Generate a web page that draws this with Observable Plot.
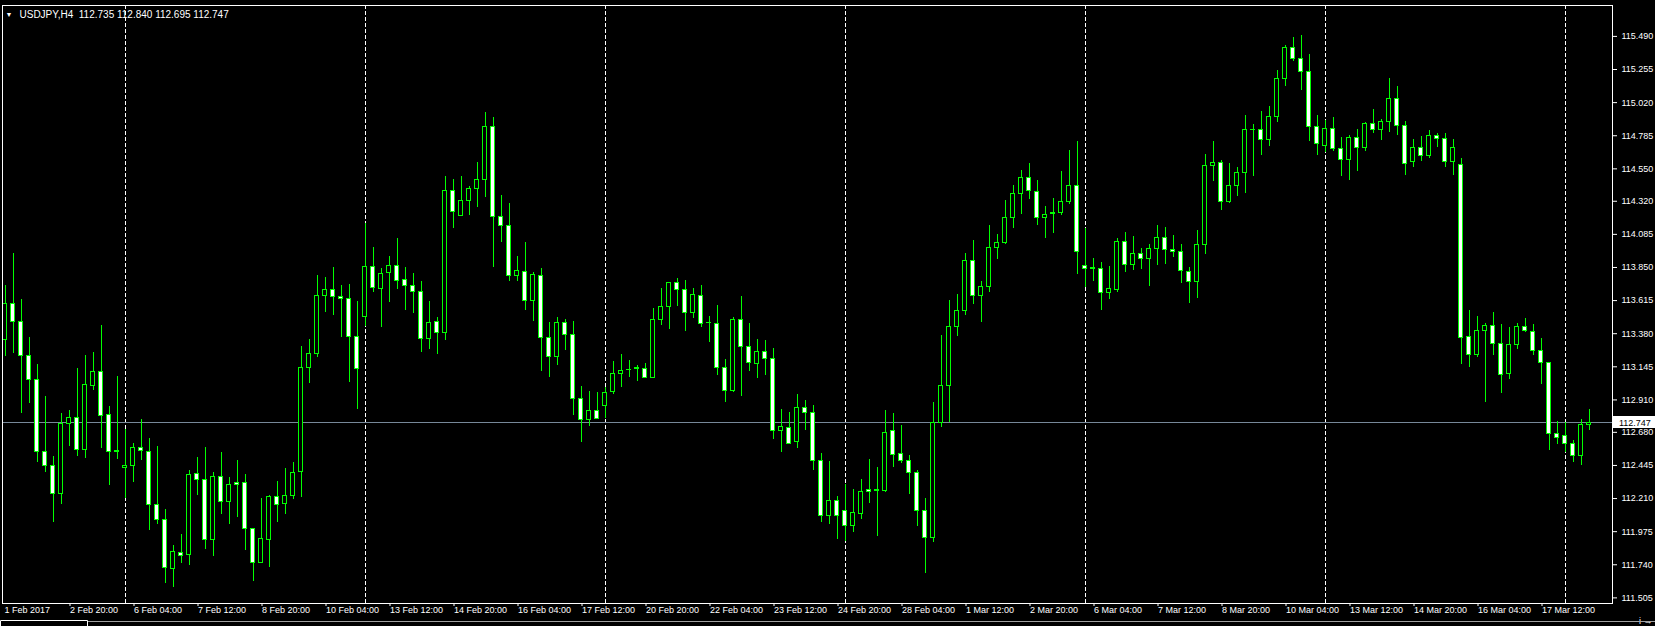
<!DOCTYPE html>
<html><head><meta charset="utf-8">
<script src="https://cdn.jsdelivr.net/npm/d3@7"></script>
<script src="https://cdn.jsdelivr.net/npm/@observablehq/plot@0.6"></script>
<style>
html,body{margin:0;padding:0;background:#000;overflow:hidden;}
#chart svg{display:block;}
</style></head><body><div id="chart"></div>
<script>
const titleText = "USDJPY,H4  112.735 112.840 112.695 112.747";
const lastPrice = 112.747;

const opens = [113.337,113.592,113.464,113.223,113.053,112.542,112.442,112.241,112.741,112.783,
112.554,113.008,113.110,112.804,112.540,112.428,112.440,112.570,112.542,112.166,
112.059,111.712,111.825,111.811,112.386,112.343,111.917,112.364,112.185,112.322,
112.322,111.995,111.752,111.917,112.218,112.170,112.227,112.398,113.138,113.235,
113.647,113.692,113.642,113.628,113.358,113.498,113.855,113.696,113.810,113.862,
113.763,113.720,113.677,113.344,113.464,113.386,114.394,114.217,114.323,114.408,
114.472,114.848,114.210,114.146,113.791,113.819,113.614,113.791,113.351,113.216,
113.457,113.372,112.918,112.769,112.833,112.868,112.965,113.095,113.119,113.133,
113.131,113.067,113.479,113.571,113.741,113.692,113.528,113.649,113.453,113.450,
113.138,112.975,113.479,113.287,113.166,113.252,113.202,112.691,112.712,112.610,
112.854,112.819,112.478,112.088,112.194,112.121,112.017,112.099,112.272,112.267,
112.263,112.691,112.525,112.478,112.393,112.123,111.931,112.748,113.010,113.429,
113.543,113.897,113.649,113.713,113.990,114.025,114.203,114.373,114.487,114.387,
114.203,114.233,114.236,114.316,114.430,113.862,113.841,113.841,113.670,113.689,
114.032,113.869,113.947,113.912,113.983,114.061,113.976,113.961,113.819,113.748,
114.011,114.572,114.593,114.316,114.430,114.522,114.827,114.827,114.756,114.919,
115.189,115.409,115.331,115.239,114.848,114.714,114.834,114.692,114.614,114.770,
114.699,114.870,114.827,114.884,115.047,114.856,114.600,114.700,114.640,114.780,
114.760,114.600,114.580,113.358,113.228,113.401,113.436,113.308,113.095,113.301,
113.429,113.393,113.259,113.173,112.670,112.655,112.599,112.513,112.735];

const highs = [113.722,113.949,113.623,113.353,113.162,112.935,112.509,112.814,112.835,113.133,
113.226,113.247,113.438,112.864,113.077,112.700,112.601,112.771,112.639,112.582,
112.133,111.877,111.955,112.409,112.502,112.573,112.395,112.537,112.360,112.480,
112.381,112.000,112.211,112.232,112.331,112.424,112.466,113.289,113.339,113.793,
113.779,113.850,113.722,113.729,113.609,114.160,113.992,113.841,113.928,114.056,
113.850,113.808,113.751,113.609,113.495,114.494,114.475,114.496,114.425,114.595,
114.950,114.915,114.359,114.304,113.928,114.027,113.812,113.843,113.460,113.495,
113.481,113.467,113.006,112.970,112.963,113.001,113.183,113.233,113.190,113.155,
113.169,113.559,113.701,113.741,113.772,113.758,113.701,113.722,113.502,113.580,
113.197,113.493,113.644,113.453,113.339,113.332,113.275,112.842,112.821,112.949,
112.906,112.871,112.530,112.473,112.225,112.310,112.275,112.345,112.487,112.431,
112.835,112.814,112.729,112.516,112.409,112.213,112.892,113.367,113.616,113.658,
113.949,114.042,113.751,114.148,114.084,114.326,114.432,114.539,114.588,114.468,
114.283,114.340,114.531,114.681,114.744,114.129,113.914,113.886,113.857,114.056,
114.099,114.070,113.985,114.013,114.148,114.134,114.077,114.013,113.850,114.113,
114.652,114.744,114.610,114.588,114.558,114.929,114.865,114.957,114.993,115.248,
115.426,115.482,115.497,115.362,114.929,114.893,114.915,114.773,114.787,114.830,
114.879,114.972,114.901,115.192,115.135,114.886,114.760,114.780,114.820,114.800,
114.800,114.760,114.620,113.543,113.502,113.450,113.531,113.445,113.424,113.453,
113.488,113.445,113.346,113.173,112.755,112.748,112.620,112.769,112.840];

const lows = [113.221,113.242,112.816,112.887,112.469,112.398,112.043,112.170,112.582,112.511,
112.497,112.980,112.568,112.305,112.490,112.208,112.327,112.483,111.986,112.028,
111.610,111.581,111.747,111.738,112.234,111.851,111.801,112.100,112.029,112.078,
111.844,111.624,111.752,111.723,112.043,112.100,112.206,112.220,113.029,113.214,
113.531,113.512,113.356,113.036,112.845,113.434,113.675,113.427,113.604,113.696,
113.547,113.526,113.249,113.270,113.235,113.334,114.129,114.217,114.222,114.278,
114.349,113.852,114.030,113.753,113.753,113.547,113.469,113.114,113.072,113.157,
113.263,112.802,112.610,112.724,112.776,112.781,112.951,113.001,113.072,113.043,
113.067,113.067,113.441,113.412,113.576,113.398,113.490,113.427,113.320,113.086,
112.894,112.965,112.937,113.114,113.065,113.086,112.632,112.539,112.599,112.568,
112.696,112.412,112.043,112.028,111.922,111.903,111.972,112.064,112.178,111.943,
112.256,112.433,112.457,112.241,112.014,111.681,111.901,112.717,112.748,113.363,
113.512,113.590,113.462,113.675,113.909,114.016,114.129,114.229,114.335,114.151,
114.058,114.094,114.222,114.300,113.803,113.711,113.753,113.547,113.625,113.675,
113.817,113.831,113.838,113.718,113.867,113.874,113.924,113.739,113.597,113.633,
113.945,114.463,114.257,114.302,114.356,114.378,114.498,114.647,114.711,114.882,
115.137,115.314,115.109,114.747,114.647,114.669,114.676,114.498,114.470,114.534,
114.676,114.804,114.754,114.811,114.789,114.505,114.560,114.600,114.620,114.700,
114.560,114.500,113.164,113.143,113.214,112.894,113.228,112.958,113.058,113.266,
113.386,113.228,113.022,112.554,112.596,112.539,112.468,112.447,112.695];

const closes = [113.592,113.462,113.221,113.050,112.540,112.440,112.241,112.741,112.783,112.554,
113.017,113.110,112.797,112.540,112.545,112.442,112.570,112.549,112.166,112.059,
111.719,111.832,111.804,112.379,112.343,111.917,112.364,112.185,112.308,112.308,
111.995,111.752,111.924,112.218,112.163,112.230,112.393,113.138,113.237,113.649,
113.692,113.640,113.625,113.358,113.131,113.855,113.703,113.805,113.862,113.756,
113.718,113.677,113.344,113.457,113.386,114.394,114.245,114.323,114.408,114.468,
114.848,114.210,114.146,113.791,113.826,113.614,113.798,113.351,113.216,113.457,
113.372,112.918,112.769,112.833,112.776,112.961,113.095,113.117,113.121,113.136,
113.067,113.479,113.571,113.741,113.692,113.528,113.656,113.450,113.455,113.138,
112.975,113.474,113.287,113.173,113.252,113.202,112.691,112.719,112.599,112.854,
112.819,112.478,112.088,112.194,112.088,112.017,112.109,112.258,112.258,112.270,
112.677,112.521,112.478,112.393,112.123,111.931,112.748,113.010,113.429,113.543,
113.897,113.649,113.713,113.990,114.025,114.203,114.373,114.487,114.394,114.203,
114.224,114.236,114.316,114.430,113.961,113.841,113.843,113.670,113.699,114.032,
113.869,113.947,113.912,113.983,114.061,113.976,113.961,113.827,113.748,114.011,
114.572,114.593,114.316,114.430,114.522,114.827,114.829,114.756,114.919,115.189,
115.409,115.331,115.239,114.848,114.728,114.834,114.692,114.614,114.770,114.699,
114.870,114.827,114.884,115.047,114.856,114.586,114.700,114.640,114.780,114.760,
114.600,114.700,113.351,113.228,113.401,113.436,113.308,113.088,113.301,113.429,
113.401,113.259,113.173,112.670,112.641,112.599,112.513,112.733,112.747];

const timeTickIndex = [0,8,16,24,32,40,48,56,64,72,80,88,96,104,112,120,128,136,144,152,160,168,176,184,192];
const timeTickLabels = ["1 Feb 2017","2 Feb 20:00","6 Feb 04:00","7 Feb 12:00","8 Feb 20:00","10 Feb 04:00",
"13 Feb 12:00","14 Feb 20:00","16 Feb 04:00","17 Feb 12:00","20 Feb 20:00","22 Feb 04:00","23 Feb 12:00",
"24 Feb 20:00","28 Feb 04:00","1 Mar 12:00","2 Mar 20:00","6 Mar 04:00","7 Mar 12:00","8 Mar 20:00",
"10 Mar 04:00","13 Mar 12:00","14 Mar 20:00","16 Mar 04:00","17 Mar 12:00"];
const weekSeparatorIndex = [15,45,75,105,135,165,195];
const priceTickLabels = ["115.490","115.255","115.020","114.785","114.550","114.320","114.085","113.850",
"113.615","113.380","113.145","112.910","112.680","112.445","112.210","111.975","111.740","111.505"];

// ---- layout ----
const W = 1655, H = 626;
const mL = 2, mR = 43, mT = 5, mB = 23;
const barStep = 8, barX0 = 4.5;
const pxPerYen = 140.9, refPrice = 115.490, refY = 35.9;
const xDomain = [(mL - barX0) / barStep, (W - mR - barX0) / barStep];
const yDomain = [refPrice - (H - mB - refY) / pxPerYen, refPrice + (refY - mT) / pxPerYen];

const bars = opens.map((o, i) => ({i, o, h: highs[i], l: lows[i], c: closes[i]}));
const upBars = bars.filter(d => d.c >= d.o);
const downBars = bars.filter(d => d.c < d.o);
const labelOf = new Map(timeTickIndex.map((k, j) => [k, timeTickLabels[j]]));
const priceTicks = priceTickLabels.map(Number);
const priceLabelOf = new Map(priceTicks.map((v, j) => [v, priceTickLabels[j]]));
const GREEN = "#00ff00";
const FONT = "'Liberation Sans', Arial, sans-serif";

const chart = Plot.plot({
  width: W, height: H,
  marginLeft: mL, marginRight: mR, marginTop: mT, marginBottom: mB,
  style: {background: "#000", color: "#fff", fontFamily: FONT, fontSize: "9px"},
  x: {type: "linear", domain: xDomain, axis: null},
  y: {type: "linear", domain: yDomain, axis: null},
  marks: [
    Plot.ruleX(weekSeparatorIndex, {x: d => d, stroke: "#fff", strokeDasharray: "4,2", shapeRendering: "crispEdges"}),
    Plot.ruleY([lastPrice], {y: d => d, stroke: "#778899", shapeRendering: "crispEdges"}),
    Plot.ruleX(bars, {x: "i", y1: "l", y2: "h", stroke: GREEN, shapeRendering: "crispEdges", clip: true}),
    Plot.rect(upBars, {x1: d => d.i - 0.25, x2: d => d.i + 0.25, y1: "o", y2: "c", fill: "#000", stroke: GREEN, shapeRendering: "crispEdges", clip: true}),
    Plot.rect(downBars, {x1: d => d.i - 0.25, x2: d => d.i + 0.25, y1: "o", y2: "c", fill: "#fff", stroke: GREEN, shapeRendering: "crispEdges", clip: true}),
    Plot.axisY(priceTicks, {anchor: "right", tickSize: 4, tickPadding: 5, tickFormat: d => priceLabelOf.get(d), stroke: "#fff", fill: "#fff", fontSize: 9}),
    Plot.axisX(timeTickIndex.slice(1), {anchor: "bottom", tickSize: 3, tickPadding: 0, textAnchor: "start", dx: 1, tickFormat: d => labelOf.get(d), stroke: "#fff", fill: "#fff", fontSize: 9}),
    Plot.text([timeTickLabels[0]], {x: timeTickIndex[0], frameAnchor: "bottom", textAnchor: "start", lineAnchor: "top", dx: -0.5, dy: 3, fill: "#fff", fontSize: 9}),
    Plot.frame({stroke: "#fff", shapeRendering: "crispEdges"}),
    Plot.text(["\u25BC"], {frameAnchor: "top-left", dx: 3, dy: 9, lineAnchor: "middle", textAnchor: "start", fill: "#fff", fontSize: 7}),
    Plot.text([titleText], {frameAnchor: "top-left", dx: 17, dy: 9, lineAnchor: "middle", textAnchor: "start", fill: "#fff", fontSize: 10})
  ]
});

// current bid label on the price axis, placed with the chart's own y scale
const yPx = chart.scale("y").apply(lastPrice);
const svg = d3.select(chart);
const g = svg.append("g").attr("text-anchor", "start");
g.append("rect").attr("x", W - mR + 1).attr("y", Math.round(yPx) - 6).attr("width", mR - 1).attr("height", 12).attr("fill", "#fff");
g.append("text").attr("x", W - mR + 7).attr("y", yPx).attr("dy", "0.35em").attr("text-anchor", "start")
  .attr("font-family", FONT).attr("font-size", 9).attr("fill", "#000").text(lastPrice.toFixed(3));
// window tab strip along the bottom
g.append("line").attr("x1", 88).attr("x2", W).attr("y1", H - 4.5).attr("y2", H - 4.5).attr("stroke", "#a0a0a0");
g.append("path").attr("d", `M0.5,${H} V${H - 5.5} H87.5 V${H}`).attr("fill", "none").attr("stroke", "#ffffff");

document.getElementById("chart").appendChild(chart);
</script></body></html>
